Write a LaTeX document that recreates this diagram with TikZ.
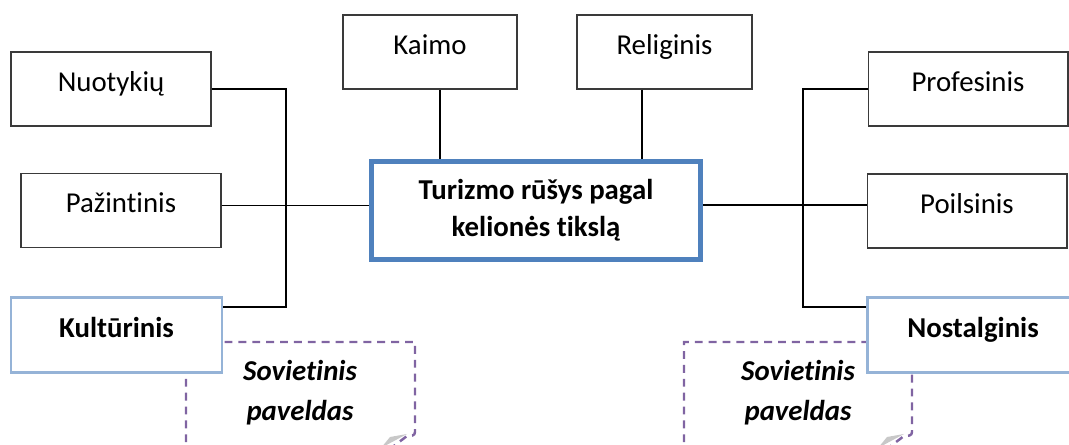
\documentclass[tikz,border=0pt]{standalone}
\usepackage{fontspec}
\setmainfont{Carlito}[Ligatures=NoCommon]
\usepackage{tikz}
\usetikzlibrary{calc}
\definecolor{Frame}{HTML}{4F81BD}
\definecolor{Pale}{HTML}{95B3D7}
\definecolor{Plum}{HTML}{8064A2}
\definecolor{Fold}{HTML}{C8C8C8}
\definecolor{Edge}{HTML}{3A3A3A}

\begin{document}
\begin{tikzpicture}[x=0.02cm,y=-0.02cm,
  every node/.style={align=center,font=\fontsize{16.4}{20.5}\selectfont},
  kind/.style={draw=Edge,line width=0.6pt,fill=white,minimum width=4cm,minimum height=1.48cm,text height=10pt,text depth=7.4pt},
  key/.style={draw=Pale,line width=1.3pt,fill=white,minimum width=4.22cm,minimum height=1.5cm,text height=10pt,text depth=7.4pt,font=\fontsize{16.4}{20.5}\selectfont\bfseries},
  note/.style={draw=Plum,line width=1.4pt,dash pattern=on 4.5pt off 3.4pt},
  link/.style={line width=0.8pt}]
  \clip (0,0) rectangle (1069,445);
  % folded notes, drawn first so the boxes hide their corners
  \fill[Fold] (407,434) -- (390,437) -- (381,448) -- cycle;
  \draw[note] (186,470) -- (186,342) -- (415,342) -- (415,432) .. controls (415,436) and (411,436) .. (407,436) -- (378,458);
  \node[font=\fontsize{16.4}{22.7}\selectfont\bfseries\itshape] (sovL) at (300,393) {Sovietinis\\paveldas};
  \fill[Fold] (904,434) -- (887,437) -- (878,448) -- cycle;
  \draw[note] (684,470) -- (684,342) -- (912,342) -- (912,432) .. controls (912,436) and (908,436) .. (904,436) -- (875,458);
  \node[font=\fontsize{16.4}{22.7}\selectfont\bfseries\itshape] (sovR) at (798,393) {Sovietinis\\paveldas};

  \node[draw=Frame,line width=2.8pt,fill=white,minimum width=6.58cm,minimum height=1.96cm,font=\fontsize{16.4}{21}\selectfont\bfseries] (main) at (536,210.5) {Turizmo rūšys pagal\\kelionės tikslą};

  \node[kind] (nuot) at (111,89) {Nuotykių};
  \node[kind] (paz) at (121,210.5) {Pažintinis};
  \node[key] (kult) at (116.5,335) {Kultūrinis};
  \node[kind,minimum width=3.48cm] (kaimo) at (430,52) {Kaimo};
  \node[kind,minimum width=3.5cm] (relig) at (664.5,52) {Religinis};
  \node[kind] (prof) at (968,89) {Profesinis};
  \node[kind] (poil) at (967,211) {Poilsinis};
  \node[key] (nost) at (973,335) {Nostalginis};

  % connectors
  \coordinate (busL) at (286,307);
  \coordinate (busR) at (803,307);
  \coordinate (kx) at ($(kaimo.south)+(10,0)$);
  \coordinate (rx) at ($(relig.south)+(-22.5,0)$);
  \coordinate (py) at ($(paz.east)+(0,-5)$);
  \coordinate (oy) at ($(poil.west)+(0,-6)$);
  \draw[link] (nuot.east) -| (busL) -- (busL -| kult.east);
  \draw[link] (py) -- (py -| main.west);
  \draw[link] (kx) -- (kx |- main.north);
  \draw[link] (rx) -- (rx |- main.north);
  \draw[link] (oy) -- (oy -| main.east);
  \draw[link] (prof.west) -| (busR) -- (busR -| nost.west);
\end{tikzpicture}
\end{document}
